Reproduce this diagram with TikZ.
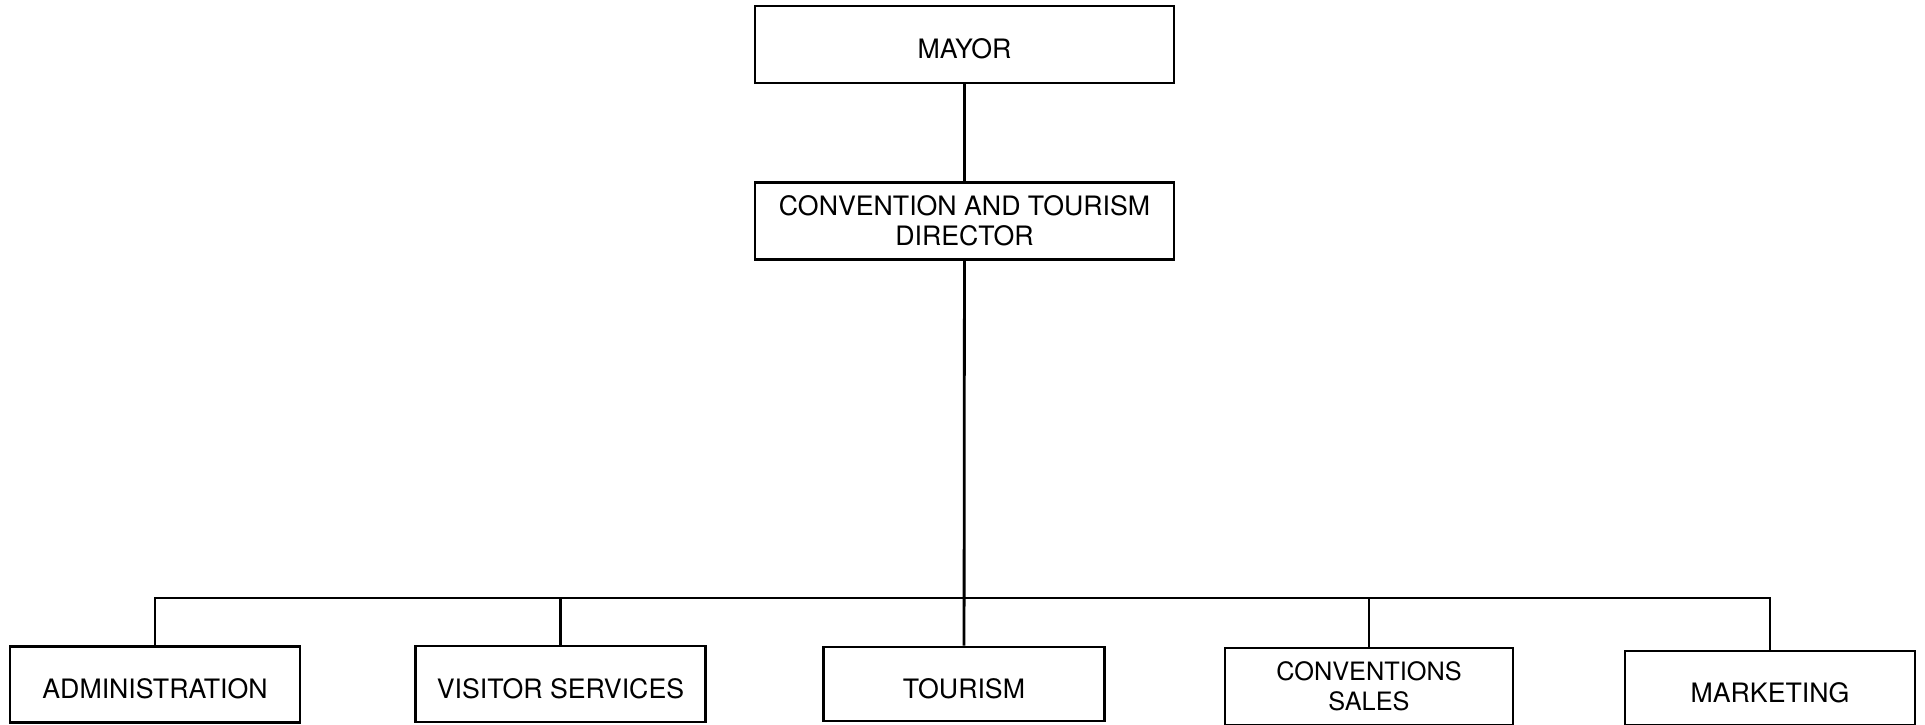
\documentclass[tikz,border=0pt]{standalone}
\usepackage{fontspec}
\setmainfont{TeX Gyre Heros}
\usepackage{tikz}

\begin{document}
\begin{tikzpicture}[
    box/.style={rectangle, draw, line width=0.8pt, inner sep=0pt, align=center,
        minimum width=2.9cm, minimum height=0.76cm, font=\fontsize{7.6}{8.4}\selectfont},
    onebox/.style={box, text height=8.2pt, text depth=0pt},
    topbox/.style={minimum width=4.19cm, minimum height=0.77cm},
    link/.style={line width=0.8pt}
]
\useasboundingbox (0,0) rectangle (19.25,7.25);

% Top of the chart
\node[onebox, topbox] (mayor) at (9.645,6.805) {MAYOR};
\node[box, topbox] (dir) at (9.645,5.04) {CONVENTION AND TOURISM\\DIRECTOR};

% Divisions
\node[onebox] (admin) at (1.55,0.405) {ADMINISTRATION};
\node[onebox] (visit) at (5.605,0.41) {VISITOR SERVICES};
\node[onebox, minimum width=2.81cm, minimum height=0.74cm] (tour) at (9.64,0.41) {TOURISM};
\node[box, minimum width=2.88cm, minimum height=0.77cm, font=\fontsize{7.2}{8.4}\selectfont] (conv) at (13.69,0.385) {CONVENTIONS\\SALES};
\node[onebox, minimum height=0.74cm] (mark) at (17.70,0.37) {MARKETING};

% Connections
\coordinate (bus) at (9.64,1.27);
\draw[link] (mayor) -- (dir);
\draw[link] (dir) -- (tour);
\draw[link] (admin.north) |- (bus) -| (mark.north);
\draw[link] (visit.north) -- (visit.north |- bus);
\draw[link] (conv.north) -- (conv.north |- bus);

\end{tikzpicture}
\end{document}
